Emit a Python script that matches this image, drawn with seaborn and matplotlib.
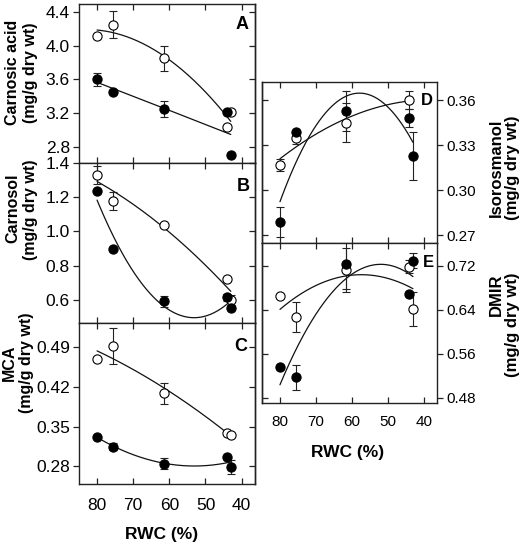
import numpy as np
import pandas as pd
import matplotlib
matplotlib.use("Agg")
import matplotlib.pyplot as plt
from matplotlib.ticker import FormatStrFormatter
import seaborn as sns

# ---------------- data ----------------
rwc = [80, 75.5, 61.5, 44, 43]

ca_open = [4.12, 4.25, 3.85, 3.04, 3.22]
ca_open_err = [0, 0.16, 0.15, 0, 0]
ca_closed = [3.60, 3.45, 3.25, 3.22, 2.71]
ca_closed_err = [0.08, 0, 0.09, 0, 0]

cs_open = [1.33, 1.18, 1.04, 0.72, 0.60]
cs_open_err = [0.05, 0.053, 0, 0, 0.03]
cs_closed = [1.235, 0.895, 0.59, 0.615, 0.55]
cs_closed_err = [0, 0, 0.03, 0.02, 0]

mca_open = [0.469, 0.492, 0.409, 0.339, 0.336]
mca_open_err = [0, 0.032, 0.019, 0, 0]
mca_closed = [0.332, 0.315, 0.285, 0.296, 0.279]
mca_closed_err = [0, 0.006, 0.009, 0, 0.013]

iso_open = [0.3167, 0.335, 0.345, 0.360, np.nan]
iso_open_err = [0.004, 0.004, 0.013, 0.006, 0]
iso_closed = [0.279, 0.339, 0.3527, 0.348, 0.3227]
iso_closed_err = [0.01, 0, 0.0135, 0.006, 0.016]

dmir_open = [0.665, 0.627, 0.7127, 0.718, 0.641]
dmir_open_err = [0, 0.027, 0.04, 0.012, 0.031]
dmir_closed = [0.536, 0.517, 0.7224, 0.668, 0.729]
dmir_closed_err = [0, 0.023, 0.045, 0, 0.013]

x_ticks = [80, 70, 60, 50, 40]
unit_label = "(mg/g dry wt)"

# ---------------- style ----------------
sns.set_theme(style="ticks")
plt.rcParams['font.family'] = ['Liberation Sans', 'DejaVu Sans']
for k in ('text.color', 'axes.labelcolor', 'xtick.color', 'ytick.color'):
    plt.rcParams[k] = 'black'
plt.rcParams['axes.edgecolor'] = '#222222'
plt.rcParams['axes.linewidth'] = 1.0

NARROW = ['Liberation Sans Narrow', 'Liberation Sans', 'DejaVu Sans']

fig = plt.figure(figsize=(5.24, 5.46), dpi=100)
W, H = 524, 546


def add_ax(x0, y0, x1, y1):
    return fig.add_axes([x0 / W, 1 - y1 / H, (x1 - x0) / W, (y1 - y0) / H])


def ptext(px, py, s, **kw):
    fig.text(px / W, 1 - py / H, s, rotation=90, ha='center', va='center',
             fontweight='bold', **kw)


axA = add_ax(79, 4, 255, 163)
axB = add_ax(79, 163, 255, 323)
axC = add_ax(79, 323, 255, 484)
axD = add_ax(262, 82, 437, 243)
axE = add_ax(262, 243, 437, 403)

# (ax, open, open err, closed, closed err, ylim, yticks, fmt, title, title pos, unit pos, letter, letter pos, side)
panels = [
    (axA, ca_open, ca_open_err, ca_closed, ca_closed_err, (2.61, 4.495), [2.8, 3.2, 3.6, 4.0, 4.4], '%.1f',
     "Carnosic acid", (13, 72), (31, 73), 'A', (0.926, 0.874), 'left'),
    (axB, cs_open, cs_open_err, cs_closed, cs_closed_err, (0.464, 1.4), [0.6, 0.8, 1.0, 1.2, 1.4], '%.1f',
     "Carnosol", (13, 208), (31, 210), 'B', (0.932, 0.856), 'left'),
    (axC, mca_open, mca_open_err, mca_closed, mca_closed_err, (0.249, 0.533), [0.28, 0.35, 0.42, 0.49], '%.2f',
     "MCA", (9, 363), (27, 363), 'C', (0.92, 0.857), 'left'),
    (axD, iso_open, iso_open_err, iso_closed, iso_closed_err, (0.2647, 0.372), [0.27, 0.30, 0.33, 0.36], '%.2f',
     "Isorosmanol", (496, 168), (513, 168), 'D', (0.943, 0.888), 'right'),
    (axE, dmir_open, dmir_open_err, dmir_closed, dmir_closed_err, (0.470, 0.761), [0.48, 0.56, 0.64, 0.72], '%.2f',
     "DMIR", (496, 295), (513, 325), 'E', (0.949, 0.881), 'right'),
]

x = np.array(rwc, dtype=float)
for ax, yo, eo, yc, ec, ylim, yt, fmt, title, tpos, upos, letter, lpos, side in panels:
    for yv, ev, face in [(yo, eo, 'white'), (yc, ec, 'black')]:
        yv = np.array(yv, dtype=float)
        ev = np.array(ev, dtype=float)
        ok = ~np.isnan(yv)
        # fitted quadratic curve
        coef = np.polyfit(x[ok], yv[ok], 2)
        xs = np.linspace(x.min(), x.max(), 200)
        sns.lineplot(x=xs, y=np.polyval(coef, xs), ax=ax, color='#111111', lw=0.9, zorder=2)
        m = ok & (ev > 0)
        ax.errorbar(x[m], yv[m], yerr=ev[m], fmt='none', ecolor='#222222', elinewidth=0.8,
                    capsize=3, capthick=0.8, zorder=3)
        df = pd.DataFrame({'rwc': x[ok], 'val': yv[ok]})
        sns.scatterplot(data=df, x='rwc', y='val', ax=ax, s=44, color=face, edgecolor='black',
                        linewidth=0.8, zorder=4 if face == 'white' else 5)
    ax.set_xlim(85, 36.3)
    ax.set_ylim(*ylim)
    ax.set_yticks(yt)
    ax.yaxis.set_major_formatter(FormatStrFormatter(fmt))
    ax.set_xticks(x_ticks)
    tsize = 12.5 if side == 'left' else 11
    ax.tick_params(axis='x', direction='in', top=True, bottom=True, length=4, width=0.9,
                   color='#222222', labelsize=tsize, pad=10 if side == 'left' else 9)
    ax.set_xlabel('')
    ax.set_ylabel('')
    if side == 'left':
        ax.tick_params(axis='y', direction='out', left=True, right=False, length=4, width=0.9,
                       color='#222222', labelsize=tsize, pad=2.5)
        sec = ax.secondary_yaxis('right')
        sec.set_yticks(yt)
        sec.tick_params(axis='y', direction='in', length=4, width=0.9, color='#222222', labelright=False)
        ptext(*tpos, title, fontsize=11.5, family=NARROW)
        ptext(*upos, unit_label, fontsize=11.5, family=NARROW)
        ax.text(lpos[0], lpos[1], letter, transform=ax.transAxes, ha='center', va='center',
                fontsize=13, fontweight='bold')
    else:
        ax.yaxis.tick_right()
        ax.tick_params(axis='y', direction='out', right=True, left=False, length=4, width=0.9,
                       color='#222222', labelsize=tsize, pad=3)
        sec = ax.secondary_yaxis('left')
        sec.set_yticks(yt)
        sec.tick_params(axis='y', direction='in', length=4, width=0.9, color='#222222', labelleft=False)
        ptext(*tpos, title, fontsize=12)
        ptext(*upos, unit_label, fontsize=12)
        ax.text(lpos[0], lpos[1], letter, transform=ax.transAxes, ha='center', va='center',
                fontsize=12, fontweight='bold')

for ax in (axA, axB, axD):
    ax.tick_params(axis='x', labelbottom=False)

axC.set_xlabel("RWC (%)", fontsize=12.5, fontweight='bold')
axC.xaxis.set_label_coords(0.47, -0.265)
axE.set_xlabel("RWC (%)", fontsize=12.5, fontweight='bold')
axE.xaxis.set_label_coords(0.49, -0.26)

fig.savefig("out.png", dpi=100, facecolor='white')
